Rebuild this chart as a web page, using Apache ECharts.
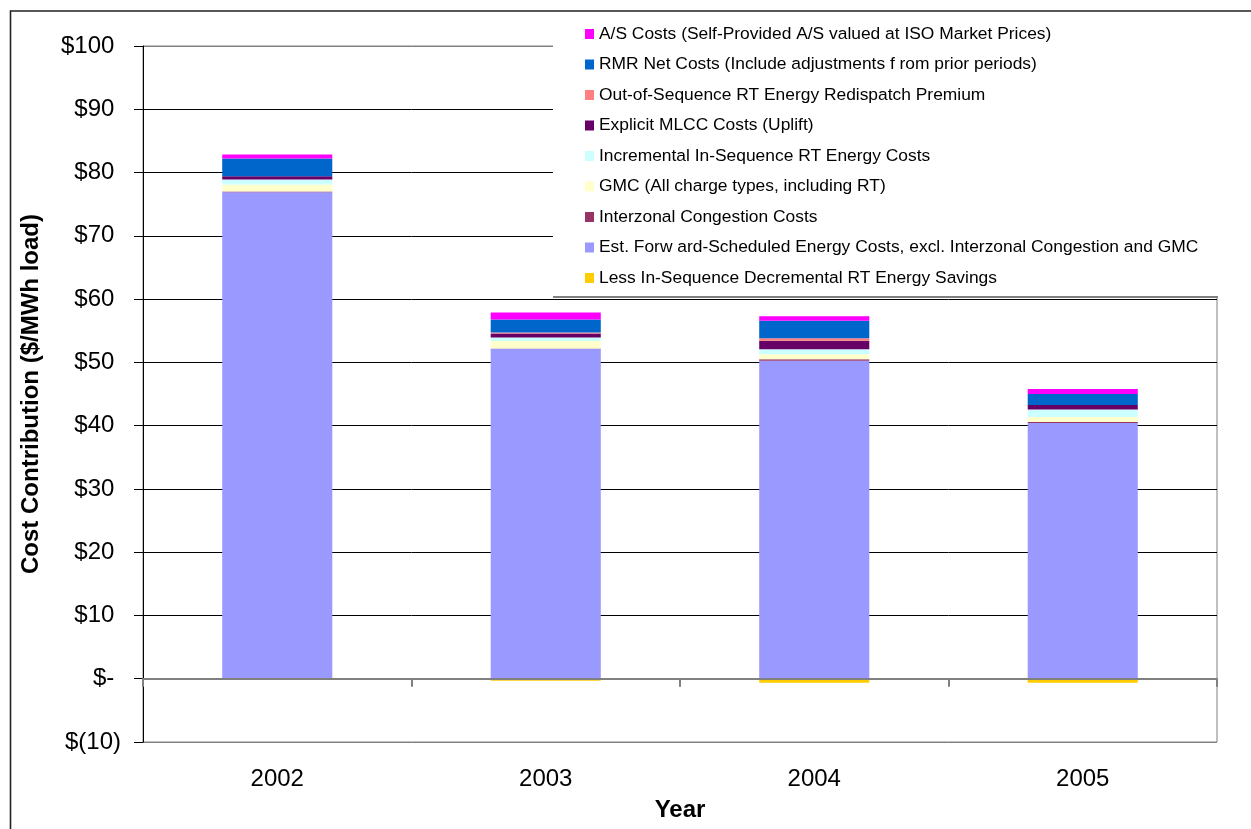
<!DOCTYPE html>
<html>
<head>
<meta charset="utf-8">
<script src="https://cdn.jsdelivr.net/npm/echarts@6/dist/echarts.min.js"></script>
<style>
  html, body { margin: 0; padding: 0; background: #ffffff; }
  #chart { width: 1251px; height: 829px; }
</style>
</head>
<body>
<div id="chart"></div>
<script>
// Categories
const years = ['2002', '2003', '2004', '2005'];

// Cost components, $/MWh load (stacked bottom to top)
const decrementalSavings = [0, -0.3, -0.65, -0.65];
const forwardEnergy      = [76.9, 52.14, 50.24, 40.41];
const interzonal         = [0.11, 0.05, 0.27, 0.16];
const gmc                = [1.1, 1.17, 0.79, 0.79];
const incrementalRT      = [0.8, 0.57, 0.79, 1.21];
const mlcc               = [0.52, 0.63, 1.31, 0.68];
const oosPremium         = [0, 0.15, 0.43, 0];
const rmrNet             = [2.8, 2.06, 2.73, 1.74];
const asCosts            = [0.63, 1.1, 0.74, 0.79];

// Y axis tick values
const yTicks = [-10, 0, 10, 20, 30, 40, 50, 60, 70, 80, 90, 100];

const seriesDefs = [
  { name: 'Less In-Sequence Decremental RT Energy Savings', data: decrementalSavings, color: '#FFCC00' },
  { name: 'Est. Forw ard-Scheduled Energy Costs, excl. Interzonal Congestion and GMC', data: forwardEnergy, color: '#9999FF' },
  { name: 'Interzonal Congestion Costs', data: interzonal, color: '#993366' },
  { name: 'GMC (All charge types, including RT)', data: gmc, color: '#FFFFCC' },
  { name: 'Incremental In-Sequence RT Energy Costs', data: incrementalRT, color: '#CCFFFF' },
  { name: 'Explicit MLCC Costs (Uplift)', data: mlcc, color: '#660066' },
  { name: 'Out-of-Sequence RT Energy Redispatch Premium', data: oosPremium, color: '#FF8080' },
  { name: 'RMR Net Costs (Include adjustments f rom prior periods)', data: rmrNet, color: '#0066CC' },
  { name: 'A/S Costs (Self-Provided A/S valued at ISO Market Prices)', data: asCosts, color: '#FF00FF' }
];

const FONT = '"Liberation Sans", Arial, sans-serif';

// Gridline colours: plot-area border lines at the ends are grey, interior lines black
const gridColors = yTicks.map((v, i) => (i === 0 || i === yTicks.length - 1) ? '#808080' : '#000000');

const chart = echarts.init(document.getElementById('chart'), null, { renderer: 'canvas' });

const option = {
  backgroundColor: '#ffffff',
  animation: false,
  textStyle: { fontFamily: FONT, color: '#000' },
  grid: {
    left: 143, right: 34, top: 46, bottom: 87,
    containLabel: false,
    outerBoundsMode: 'none',
    show: true, borderColor: '#808080', borderWidth: 1, backgroundColor: 'transparent'
  },
  legend: {
    orient: 'vertical',
    left: 580,
    top: 20.5,
    itemWidth: 9,
    itemHeight: 10,
    itemGap: 13.5,
    icon: 'rect',
    z: 10,
    selectedMode: false,
    data: seriesDefs.map(s => s.name).reverse(),
    textStyle: { fontFamily: FONT, fontSize: 17.4, lineHeight: 17, color: '#000' }
  },
  xAxis: [
    {
      // category labels and title along the bottom of the plot
      type: 'category',
      data: years,
      position: 'bottom',
      name: 'Year',
      nameLocation: 'middle',
      nameGap: 56,
      nameTextStyle: { fontFamily: FONT, fontSize: 24, fontWeight: 'bold', color: '#000' },
      axisLine: { show: false, onZero: false },
      axisTick: { show: false },
      axisLabel: { margin: 25, fontFamily: FONT, fontSize: 24, color: '#000' }
    },
    {
      // zero line with category dividers
      type: 'category',
      data: years,
      position: 'bottom',
      z: 3,
      axisLine: { show: true, onZero: true, lineStyle: { color: '#808080', width: 2 } },
      axisTick: { show: true, length: 8, interval: 0, lineStyle: { color: '#808080', width: 2 } },
      axisLabel: { show: false }
    }
  ],
  yAxis: {
    type: 'value',
    min: yTicks[0],
    max: yTicks[yTicks.length - 1],
    interval: 10,
    name: 'Cost Contribution ($/MWh load)',
    nameLocation: 'middle',
    nameGap: 100,
    nameTextStyle: { fontFamily: FONT, fontSize: 24, fontWeight: 'bold', color: '#000' },
    axisLine: { show: true, lineStyle: { color: '#000', width: 1 } },
    axisTick: { show: true, length: 9, lineStyle: { color: '#000', width: 1 } },
    axisLabel: {
      margin: 22,
      fontFamily: FONT,
      fontSize: 24,
      color: '#000',
      formatter: v => v < 0 ? '$(' + Math.abs(v) + ')' : (v === 0 ? '$- ' : '$' + v + ' ')
    },
    splitLine: { show: true, lineStyle: { color: gridColors, width: 1 } }
  },
  graphic: [
    // outer chart frame
    { type: 'rect', z: 100, silent: true,
      shape: { x: 10.5, y: 11, width: 1300, height: 900 },
      style: { fill: null, stroke: '#222', lineWidth: 1.6 } },
    // legend panel
    { type: 'rect', z: 1, silent: true,
      shape: { x: 553, y: 12, width: 700, height: 285 },
      style: { fill: '#ffffff', stroke: null } },
    { type: 'line', z: 1, silent: true,
      shape: { x1: 553, y1: 297, x2: 1218, y2: 297 },
      style: { stroke: '#808080', lineWidth: 2 } }
  ],
  series: seriesDefs.map(s => ({
    name: s.name,
    type: 'bar',
    stack: 'cost',
    xAxisIndex: 0,
    data: s.data,
    barCategoryGap: '59%',
    itemStyle: { color: s.color },
    emphasis: { disabled: true }
  }))
};

chart.setOption(option);
</script>
</body>
</html>
